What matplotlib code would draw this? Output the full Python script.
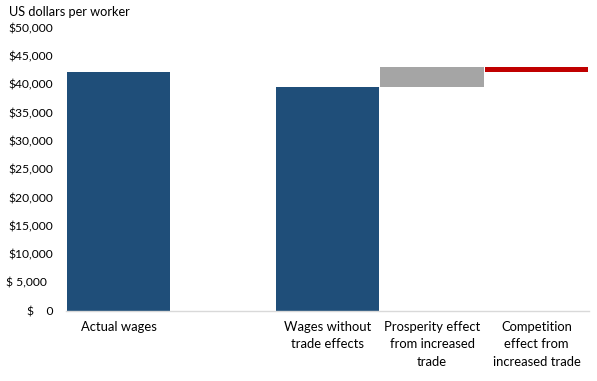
import matplotlib
matplotlib.use('Agg')
import matplotlib.pyplot as plt
import numpy as np

plt.rcParams['font.family'] = ['Lato', 'DejaVu Sans']

categories = ['Actual wages', '', 'Wages without\ntrade effects',
              'Prosperity effect\nfrom increased\ntrade',
              'Competition\neffect from\nincreased trade']
actual_wages = 42100
wages_without = 39600
prosperity = 3500
competition = -1000

yticks = [0, 5000, 10000, 15000, 20000, 25000, 30000, 35000, 40000, 45000, 50000]
ytick_labels = ['$    0', '$ 5,000  ', '$10,000', '$15,000', '$20,000', '$25,000',
                '$30,000', '$35,000', '$40,000', '$45,000', '$50,000']

navy = '#1F4E79'
grey = '#A5A5A5'
red = '#C00000'

fig = plt.figure(figsize=(5.97, 3.81), dpi=100)
ax = fig.add_axes([0.1112, 0.185, 0.8754, 0.742])

w = 0.99
ax.bar(0, actual_wages, width=w, color=navy)
ax.bar(2, wages_without, width=w, color=navy)
ax.bar(3, prosperity, bottom=wages_without, width=w, color=grey)
ax.bar(4, competition, bottom=wages_without + prosperity, width=w, color=red)

ax.set_xlim(-0.5, 4.5)
ax.set_ylim(0, 50000)
ax.set_xticks(range(len(categories)))
ax.set_xticklabels(categories, fontsize=9.4, linespacing=1.55)
ax.set_yticks(yticks)
ax.set_yticklabels(ytick_labels, fontsize=8.7)
ax.tick_params(axis='both', length=0)
ax.tick_params(axis='y', pad=9.5)
ax.tick_params(axis='x', pad=7.5)

for s in ['top', 'right', 'left']:
    ax.spines[s].set_visible(False)
ax.spines['bottom'].set_color('#D9D9D9')
ax.spines['bottom'].set_linewidth(1)

fig.text(9 / 597, 1 - 12.5 / 381, 'US dollars per worker', fontsize=9.2,
         ha='left', va='center')

fig.savefig('out.png', dpi=100)
